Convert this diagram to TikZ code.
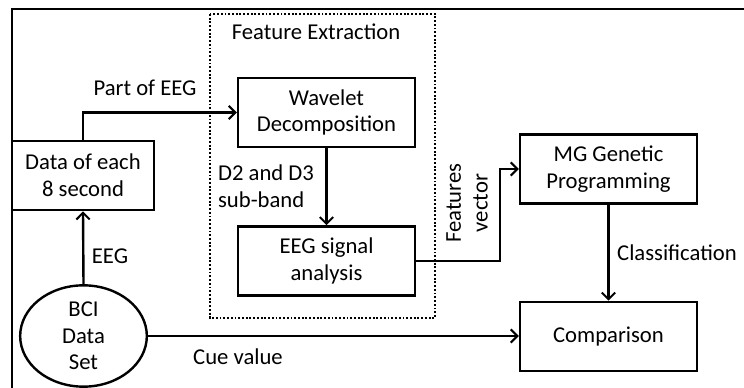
\documentclass[tikz,border=0pt]{standalone}
\usepackage{fontspec}
\setmainfont{Carlito}
\usetikzlibrary{arrows.meta,positioning,shapes.geometric}

\begin{document}
\begin{tikzpicture}[x=0.75pt,y=-0.75pt,every node/.style={font=\fontsize{17}{20}\selectfont}]
  \tikzstyle{blk}=[draw,line width=1.8pt,align=center,minimum width=132.75pt,minimum height=52pt,inner sep=2pt]
  \tikzstyle{lbl}=[align=center,inner sep=1pt]
  \tikzstyle{f}=[-{Straight Barb[length=5pt,width=10pt,line width=1.5pt]},line width=1.8pt]

  \useasboundingbox (0,0) rectangle (744,388);

  % -- outer frame (top and left edges) --
  \draw[line width=1.3pt] (12,388) -- (12,9) -- (744,9);

  % -- Feature Extraction group --
  \draw[line width=1.6pt,dash pattern=on 1.4pt off 1.4pt] (210,14) rectangle (435,318);
  \node[lbl] (fetitle) at (316,32) {Feature Extraction};
  \node[blk] (wav) at (326.5,112.5) {Wavelet\\Decomposition};
  \node[blk] (sig) at (326.5,261) {EEG signal\\analysis};

  % -- input side --
  \node[blk,minimum width=106.5pt] (data) at (83,175.5) {Data of each\\8 second};
  \node[ellipse,draw,line width=1.8pt,minimum width=95pt,minimum height=76pt,inner sep=0pt,align=center] (bci) at (83.5,336) {BCI\\Data\\Set};

  % -- classifier side --
  \node[blk] (mg) at (608.5,169) {MG Genetic\\Programming};
  \node[blk] (cmp) at (608.5,336.5) {Comparison};

  % -- connectors --
  \draw[f] (bci.north) -- (data.south);
  \node[lbl] (leeg) at (110,256) {EEG};
  \draw[f] (data.north) |- (wav.west);
  \node[lbl] (lpart) at (145,88) {Part of EEG};
  \draw[f] (wav) -- (sig);
  \node[lbl,align=left] (lsub) at (266,186) {D2 and D3\\sub-band};
  \coordinate (bend) at (500,261);
  \draw[f] (sig.east) -- (bend) |- (mg.west);
  \node[lbl,rotate=90] (lfeat) at (467,203) {Features\\vector};
  \draw[f] (mg) -- (cmp);
  \node[lbl] (lcls) at (677,253) {Classification};
  \draw[f] (bci.east) -- (bci.east -| cmp.west);
  \node[lbl] (lcue) at (238,357) {Cue value};
\end{tikzpicture}
\end{document}
